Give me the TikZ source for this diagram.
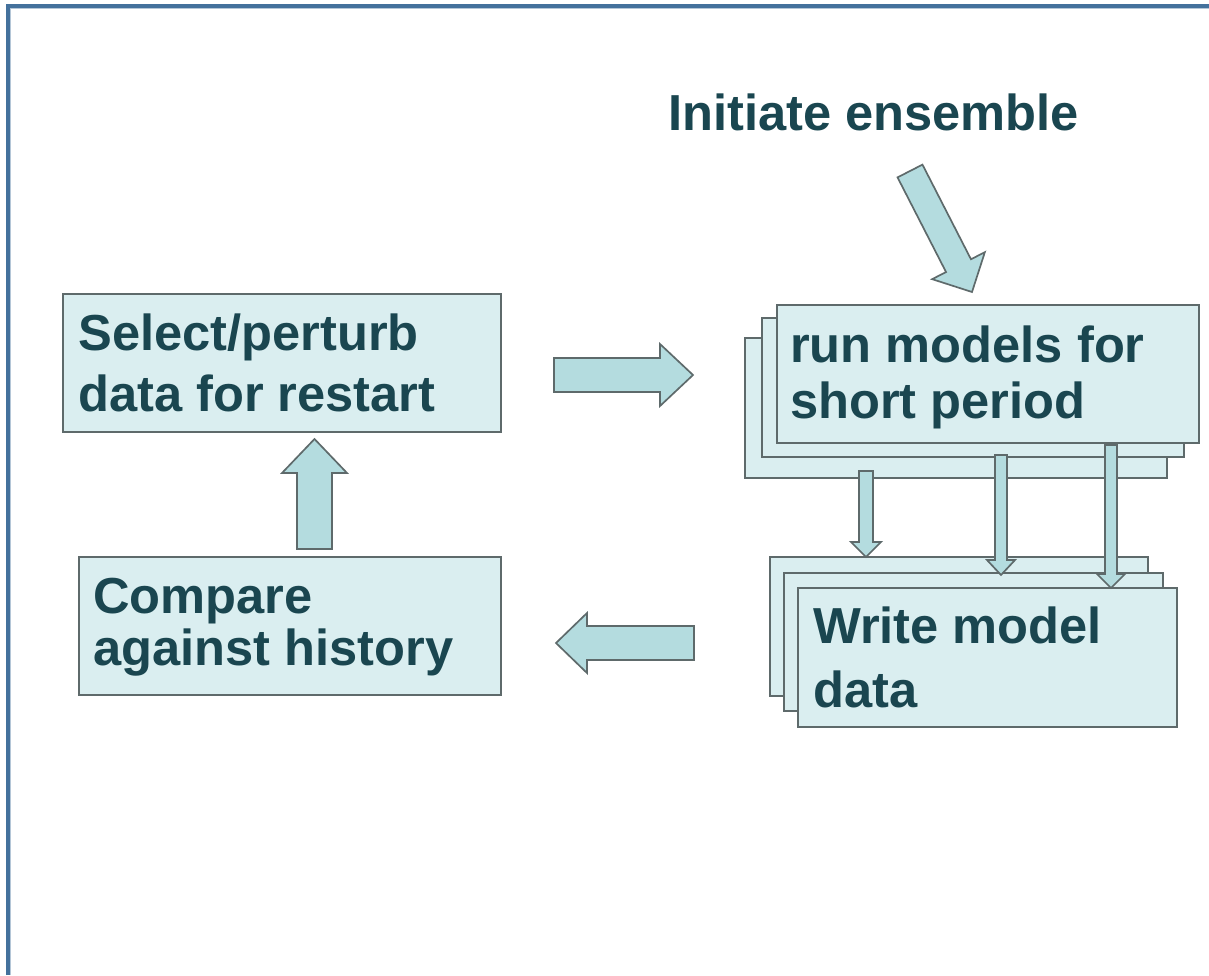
\documentclass[tikz,border=0pt]{standalone}
\usepackage{fontspec}
\setmainfont{Liberation Sans}
\usetikzlibrary{calc}
\definecolor{boxfill}{HTML}{DAEEF0}
\definecolor{arrfill}{HTML}{B4DCDF}
\definecolor{edge}{HTML}{5E6A6B}
\definecolor{txtcol}{HTML}{1A4650}
\definecolor{frame}{HTML}{44719C}
\newcommand\boxat[5]{\node[boxst, minimum width={(#4-#2)*0.025cm}, minimum height={(#5-#3)*0.025cm}] (#1) at ({(#2+#4)/2},{(#3+#5)/2}) {};}
\newcommand\blockarrow[6]{%
  \coordinate (#1h) at ($(#3)!#6!(#2)$);
  \draw[arrowst] ($(#2)!#4!90:(#3)$) -- ($(#1h)!#4!90:(#3)$) -- ($(#1h)!#5!90:(#3)$) -- (#3)
     -- ($(#1h)!#5!-90:(#3)$) -- ($(#1h)!#4!-90:(#3)$) -- ($(#2)!#4!-90:(#3)$) -- cycle;}
\tikzset{
  boxst/.style={draw=edge, fill=boxfill, line width=1.3pt, inner sep=0pt, outer sep=0pt, rectangle},
  arrowst/.style={draw=edge, fill=arrfill, line width=1.2pt, line join=miter},
  txt/.style={anchor=base west, inner sep=0pt, text=txtcol, font=\fontsize{36pt}{43pt}\selectfont\bfseries},
}
\begin{document}
\begin{tikzpicture}[x=0.025cm, y=-0.025cm]
\useasboundingbox (0,0) rectangle (1209,975);
\fill[white] (0,0) rectangle (1209,975);
% frame
\draw[frame, line width=2.2pt] (8,975) -- (8,6) -- (1209,6);
\draw[frame!40, line width=0.6pt] (10.5,975) -- (10.5,8.5) -- (1209,8.5);

% title
\node[txt] (init) at (668,130) {Initiate ensemble};

% left boxes
\boxat{sel}{63}{294}{501}{432}
\node[txt] (sel1) at (78,350) {Select/perturb};
\node[txt] (sel2) at (78,411) {data for restart};

\boxat{cmp}{79}{557}{501}{695}
\node[txt] (cmp1) at (93,613) {Compare};
\node[txt] (cmp2) at (93,665) {against history};

% run models stack
\boxat{runC}{745}{338}{1167}{478}
\boxat{runB}{762}{318}{1184}{457}
\boxat{runA}{777}{305}{1199}{443}
\node[txt] (run1) at (790,362) {run models for};
\node[txt] (run2) at (790,418) {short period};

% write model stack
\boxat{wrC}{770}{557}{1148}{696}
\boxat{wrB}{784}{573}{1163}{711}
\boxat{wrA}{798}{588}{1177}{727}
\node[txt] (wr1) at (813,643) {Write model};
\node[txt] (wr2) at (813,707) {data};

% arrow end points
\coordinate (dS) at (910,171);  \coordinate (dE) at (972,292);
\coordinate (rS) at (554,375);  \coordinate (rE) at (693,375);
\coordinate (lS) at (694,643);  \coordinate (lE) at (556,643);
\coordinate (uS) at (314.5,549);\coordinate (uE) at (314.5,439);
\coordinate (aS) at (866,471);  \coordinate (aE) at (866,557);
\coordinate (bS) at (1001,455); \coordinate (bE) at (1001,575);
\coordinate (cS) at (1111,445); \coordinate (cE) at (1111,588);

% block arrows
\blockarrow{ad}{dS}{dE}{0.35cm}{0.74cm}{0.74cm}
\blockarrow{ar}{rS}{rE}{0.425cm}{0.775cm}{0.825cm}
\blockarrow{al}{lS}{lE}{0.425cm}{0.75cm}{0.775cm}
\blockarrow{au}{uS}{uE}{0.4375cm}{0.8125cm}{0.85cm}
\blockarrow{aa}{aS}{aE}{0.175cm}{0.375cm}{0.375cm}
\blockarrow{ab}{bS}{bE}{0.15cm}{0.35cm}{0.375cm}
\blockarrow{ac}{cS}{cE}{0.15cm}{0.35cm}{0.35cm}
\end{tikzpicture}
\end{document}
